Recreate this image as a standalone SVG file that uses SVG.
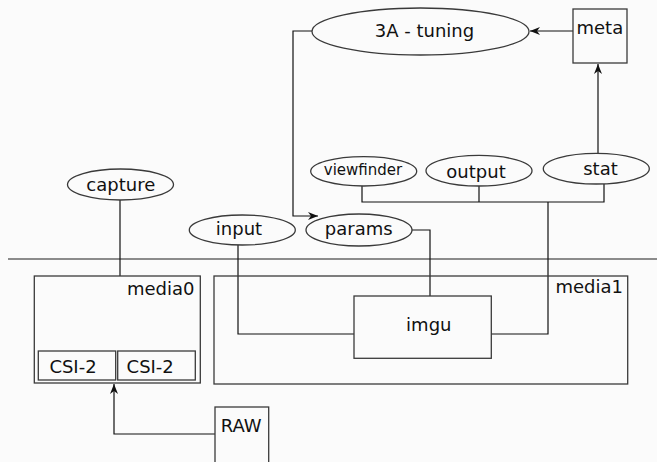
<svg xmlns="http://www.w3.org/2000/svg" width="657" height="462" viewBox="0 0 657 462">
  <style>
    .shape { fill: none; stroke: #3a3a3a; stroke-width: 1.3; }
    .wire { fill: none; stroke: #111; stroke-width: 1.2; }
    .sep { fill: none; stroke: #666; stroke-width: 1.6; }
    text { font-family: "DejaVu Sans", "Liberation Sans", sans-serif; font-size: 18px; fill: #111; }
    .c { text-anchor: middle; }
    .r { text-anchor: end; }
  </style>
  <defs>
    <marker id="arrow" viewBox="0 0 10 8" refX="10" refY="4" markerWidth="10" markerHeight="8" markerUnits="userSpaceOnUse" orient="auto">
      <path d="M0,0 L10,4 L0,8 L3,4 z" fill="#111"/>
    </marker>
  </defs>
  <rect width="657" height="462" fill="#fbfbfb"/>

  <!-- connectors -->
  <g id="connectors">
    <path class="sep" d="M8,259 H657"/>
    <path class="wire" d="M573,31 H530" marker-end="url(#arrow)"/>
    <path class="wire" d="M598,153 V64" marker-end="url(#arrow)"/>
    <path class="wire" d="M312,31 H293 V216 H318" marker-end="url(#arrow)"/>
    <path class="wire" d="M215,434 H114 V384" marker-end="url(#arrow)"/>
    <path class="wire" d="M120,200 V276"/>
    <path class="wire" d="M238,245 V334 H354"/>
    <path class="wire" d="M412,230 H430 V296"/>
    <path class="wire" d="M362,186 V202 H604 V184"/>
    <path class="wire" d="M479,186 V202"/>
    <path class="wire" d="M548,202 V334 H491"/>
  </g>

  <g id="tuning">
    <ellipse class="shape" cx="420.5" cy="31.5" rx="108.5" ry="23.5"/>
    <text class="c" x="424.5" y="37">3A - tuning</text>
  </g>
  <g id="meta">
    <rect class="shape" x="573" y="9" width="54" height="54"/>
    <text x="576.5" y="34">meta</text>
  </g>
  <g id="viewfinder">
    <ellipse class="shape" cx="363.7" cy="171.3" rx="53" ry="14.7"/>
    <text class="c" x="363" y="175" style="font-size:15px">viewfinder</text>
  </g>
  <g id="output">
    <ellipse class="shape" cx="479" cy="170.7" rx="53" ry="15.3"/>
    <text class="c" x="476" y="177.5">output</text>
  </g>
  <g id="stat">
    <ellipse class="shape" cx="596.3" cy="168.7" rx="53" ry="15.3"/>
    <text class="c" x="600.5" y="175.3">stat</text>
  </g>
  <g id="capture">
    <ellipse class="shape" cx="120.5" cy="184.5" rx="53" ry="15.5"/>
    <text class="c" x="120.8" y="191.3">capture</text>
  </g>
  <g id="input">
    <ellipse class="shape" cx="242.3" cy="230" rx="53" ry="15"/>
    <text class="c" x="239" y="235">input</text>
  </g>
  <g id="params">
    <ellipse class="shape" cx="359" cy="230" rx="53" ry="16"/>
    <text class="c" x="358.7" y="235">params</text>
  </g>
  <g id="media0">
    <rect class="shape" x="34.3" y="276" width="166" height="107"/>
    <text class="r" x="194.5" y="295">media0</text>
    <rect class="shape" x="38.3" y="351" width="77.4" height="29"/>
    <text class="c" x="73" y="373">CSI-2</text>
    <rect class="shape" x="117.7" y="351" width="77.6" height="29"/>
    <text class="c" x="150.2" y="373">CSI-2</text>
  </g>
  <g id="media1">
    <rect class="shape" x="214" y="276" width="413.7" height="108"/>
    <text class="r" x="623" y="293">media1</text>
  </g>
  <g id="imgu">
    <rect class="shape" x="354" y="296" width="137.3" height="62.3"/>
    <text class="c" x="428.8" y="331">imgu</text>
  </g>
  <g id="raw">
    <rect class="shape" x="215" y="407" width="53.7" height="60"/>
    <text x="220.7" y="431.7">RAW</text>
  </g>
</svg>
